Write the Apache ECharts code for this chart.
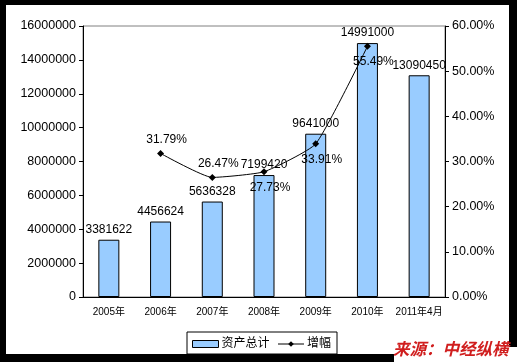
<!DOCTYPE html>
<html><head><meta charset="utf-8">
<script src="https://cdn.jsdelivr.net/npm/echarts@6/dist/echarts.min.js"></script>
<style>html,body{margin:0;padding:0;background:#000;}#c{width:517px;height:362px;}</style>
</head><body><div id="c"></div>
<script>
const categories = ['2005年','2006年','2007年','2008年','2009年','2010年','2011年4月'];
const assetTotals = [3381622, 4456624, 5636328, 7199420, 9641000, 14991000, 13090450];
const growthPct = [null, 31.79, 26.47, 27.73, 33.91, 55.49, null];
const growthLabelPos = [null, 'top', 'top', 'bottom', 'bottom', 'bottom', null];
const seriesNames = ['资产总计', '增幅'];
const leftTicks = {min: 0, max: 16000000, interval: 2000000};
const rightTicks = {min: 0, max: 60, interval: 10};
const sourceText = '来源：中经纵横';

const font = 'Arial, "Liberation Sans", "Noto Sans CJK SC", sans-serif';
const chart = echarts.init(document.getElementById('c'));
chart.setOption({
  animation: false,
  backgroundColor: '#000',
  textStyle: {fontFamily: font, color: '#000'},
  graphic: [
    {type: 'rect', z: -10, shape: {x: 6, y: 5, width: 503, height: 349}, style: {fill: '#fff'}},
    {type: 'rect', z: 100, shape: {x: 394, y: 347, width: 123, height: 15}, style: {fill: '#fff'}},
    {type: 'text', z: 101, left: 393, top: 340, style: {text: sourceText, fill: '#D01E1E', font: 'italic bold 16.5px "Noto Sans CJK SC", sans-serif', textShadowColor: 'rgba(80,0,0,0.6)', textShadowOffsetX: 1, textShadowOffsetY: 1}}
  ],
  grid: {left: 83, top: 26, right: 72, bottom: 65, show: true, borderColor: '#808080', borderWidth: 1, backgroundColor: 'transparent'},
  legend: {
    left: 187, top: 332, width: 154,
    padding: [6, 6, 4, 5], itemGap: 8,
    borderColor: '#000', borderWidth: 1, backgroundColor: '#fff',
    itemWidth: 26, itemHeight: 7,
    textStyle: {fontSize: 12, fontFamily: font, color: '#000', padding: [0, 0, 0, -2]},
    data: [
      {name: seriesNames[0], icon: 'rect', itemStyle: {color: '#99CCFF', borderColor: '#000', borderWidth: 1}},
      {name: seriesNames[1], itemStyle: {color: '#000', borderWidth: 0}, lineStyle: {color: '#000', width: 1}}
    ]
  },
  xAxis: {
    type: 'category', data: categories,
    axisLine: {lineStyle: {color: '#000', width: 1}},
    axisTick: {inside: true, length: 4, lineStyle: {color: '#000'}},
    axisLabel: {fontSize: 10, margin: 10, color: '#000', interval: 0}
  },
  yAxis: [
    {type: 'value', min: leftTicks.min, max: leftTicks.max, interval: leftTicks.interval,
     axisLine: {show: true, lineStyle: {color: '#000'}},
     axisTick: {show: true, length: 4, lineStyle: {color: '#000'}},
     splitLine: {show: false},
     axisLabel: {fontSize: 12.5, margin: 7, color: '#000', formatter: v => String(v)}},
    {type: 'value', min: rightTicks.min, max: rightTicks.max, interval: rightTicks.interval, position: 'right',
     axisLine: {show: true, lineStyle: {color: '#000'}},
     axisTick: {show: true, length: 4, lineStyle: {color: '#000'}},
     splitLine: {show: false},
     axisLabel: {fontSize: 12.5, margin: 7, color: '#000', formatter: v => v.toFixed(2) + '%'}}
  ],
  series: [
    {name: seriesNames[0], type: 'bar', data: assetTotals, barWidth: 21, yAxisIndex: 0,
     itemStyle: {color: '#99CCFF', borderColor: '#000', borderWidth: 1},
     label: {show: true, position: 'top', distance: 4, fontSize: 12, color: '#000', fontFamily: font}},
    {name: seriesNames[1], type: 'line', yAxisIndex: 1, smooth: 0.15, connectNulls: false,
     symbol: 'diamond', symbolSize: 7,
     lineStyle: {color: '#000', width: 1}, itemStyle: {color: '#000'},
     data: growthPct.map((v, i) => v == null ? null : {
       value: v,
       label: {show: true, position: growthLabelPos[i], distance: growthLabelPos[i] === 'top' ? 4 : 6, offset: [6, 0],
               formatter: p => p.value.toFixed(2) + '%', fontSize: 12, color: '#000', fontFamily: font}
     }),
     z: 5}
  ]
});
</script></body></html>
